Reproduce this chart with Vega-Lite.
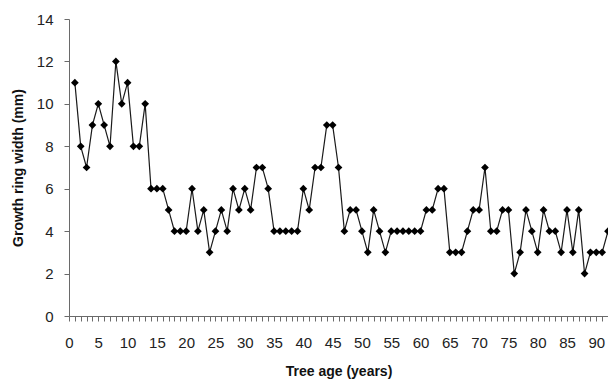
{
  "$schema": "https://vega.github.io/schema/vega-lite/v6.json",
  "width": 539,
  "height": 297,
  "autosize": "none",
  "padding": {"left": 69, "top": 19, "right": 0, "bottom": 65},
  "background": "white",
  "config": {
    "view": {"stroke": null},
    "axis": {
      "grid": false,
      "domainColor": "#6a6a6a",
      "tickColor": "#6a6a6a",
      "tickSize": 5,
      "labelFont": "Liberation Sans",
      "labelFontSize": 15,
      "labelColor": "#222222",
      "titleFont": "Liberation Sans",
      "titleFontSize": 14,
      "titleFontWeight": "bold",
      "titleColor": "#111111"
    }
  },
  "data": {
    "values": [
      {"age": 1, "width": 11}, {"age": 2, "width": 8}, {"age": 3, "width": 7}, {"age": 4, "width": 9},
      {"age": 5, "width": 10}, {"age": 6, "width": 9}, {"age": 7, "width": 8}, {"age": 8, "width": 12},
      {"age": 9, "width": 10}, {"age": 10, "width": 11}, {"age": 11, "width": 8}, {"age": 12, "width": 8},
      {"age": 13, "width": 10}, {"age": 14, "width": 6}, {"age": 15, "width": 6}, {"age": 16, "width": 6},
      {"age": 17, "width": 5}, {"age": 18, "width": 4}, {"age": 19, "width": 4}, {"age": 20, "width": 4},
      {"age": 21, "width": 6}, {"age": 22, "width": 4}, {"age": 23, "width": 5}, {"age": 24, "width": 3},
      {"age": 25, "width": 4}, {"age": 26, "width": 5}, {"age": 27, "width": 4}, {"age": 28, "width": 6},
      {"age": 29, "width": 5}, {"age": 30, "width": 6}, {"age": 31, "width": 5}, {"age": 32, "width": 7},
      {"age": 33, "width": 7}, {"age": 34, "width": 6}, {"age": 35, "width": 4}, {"age": 36, "width": 4},
      {"age": 37, "width": 4}, {"age": 38, "width": 4}, {"age": 39, "width": 4}, {"age": 40, "width": 6},
      {"age": 41, "width": 5}, {"age": 42, "width": 7}, {"age": 43, "width": 7}, {"age": 44, "width": 9},
      {"age": 45, "width": 9}, {"age": 46, "width": 7}, {"age": 47, "width": 4}, {"age": 48, "width": 5},
      {"age": 49, "width": 5}, {"age": 50, "width": 4}, {"age": 51, "width": 3}, {"age": 52, "width": 5},
      {"age": 53, "width": 4}, {"age": 54, "width": 3}, {"age": 55, "width": 4}, {"age": 56, "width": 4},
      {"age": 57, "width": 4}, {"age": 58, "width": 4}, {"age": 59, "width": 4}, {"age": 60, "width": 4},
      {"age": 61, "width": 5}, {"age": 62, "width": 5}, {"age": 63, "width": 6}, {"age": 64, "width": 6},
      {"age": 65, "width": 3}, {"age": 66, "width": 3}, {"age": 67, "width": 3}, {"age": 68, "width": 4},
      {"age": 69, "width": 5}, {"age": 70, "width": 5}, {"age": 71, "width": 7}, {"age": 72, "width": 4},
      {"age": 73, "width": 4}, {"age": 74, "width": 5}, {"age": 75, "width": 5}, {"age": 76, "width": 2},
      {"age": 77, "width": 3}, {"age": 78, "width": 5}, {"age": 79, "width": 4}, {"age": 80, "width": 3},
      {"age": 81, "width": 5}, {"age": 82, "width": 4}, {"age": 83, "width": 4}, {"age": 84, "width": 3},
      {"age": 85, "width": 5}, {"age": 86, "width": 3}, {"age": 87, "width": 5}, {"age": 88, "width": 2},
      {"age": 89, "width": 3}, {"age": 90, "width": 3}, {"age": 91, "width": 3}, {"age": 92, "width": 4}
    ]
  },
  "encoding": {
    "x": {
      "field": "age",
      "type": "quantitative",
      "scale": {"domain": [0, 92], "nice": false},
      "axis": {
        "title": "Tree age (years)",
        "values": [0,1,2,3,4,5,6,7,8,9,10,11,12,13,14,15,16,17,18,19,20,21,22,23,24,25,26,27,28,29,30,31,32,33,34,35,36,37,38,39,40,41,42,43,44,45,46,47,48,49,50,51,52,53,54,55,56,57,58,59,60,61,62,63,64,65,66,67,68,69,70,71,72,73,74,75,76,77,78,79,80,81,82,83,84,85,86,87,88,89,90,91],
        "labelExpr": "datum.value % 5 === 0 ? datum.label : ''",
        "labelOverlap": false,
        "labelFlush": false,
        "labelPadding": 14,
        "titleY": 48
      }
    },
    "y": {
      "field": "width",
      "type": "quantitative",
      "scale": {"domain": [0, 14], "nice": false},
      "axis": {
        "title": "Growth ring width (mm)",
        "values": [0, 2, 4, 6, 8, 10, 12, 14],
        "labelPadding": 11,
        "titleX": -44
      }
    }
  },
  "layer": [
    {"mark": {"type": "line", "color": "#1a1a1a", "strokeWidth": 1.2}},
    {"mark": {"type": "point", "shape": "diamond", "filled": true, "color": "#000000", "opacity": 1, "size": 60}}
  ]
}
